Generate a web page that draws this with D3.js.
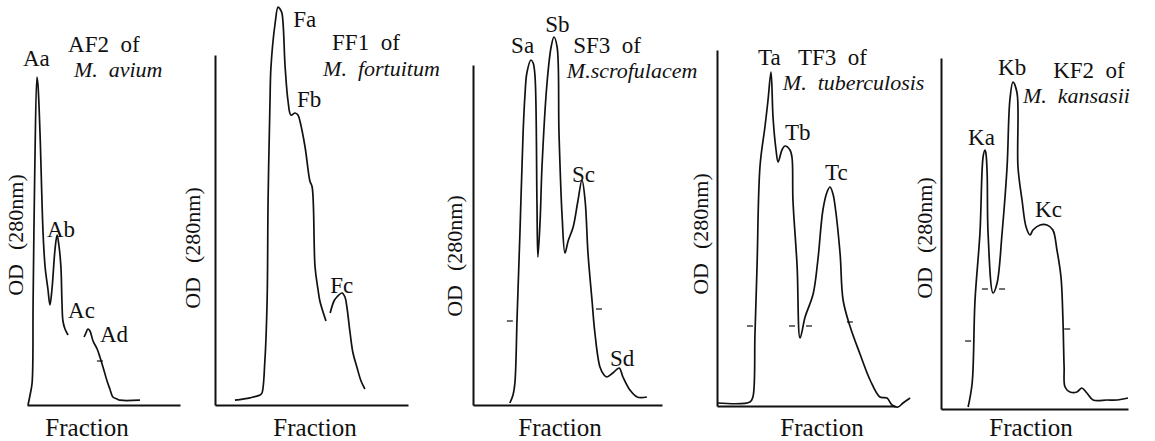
<!DOCTYPE html>
<html>
<head>
<meta charset="utf-8">
<script src="https://cdn.jsdelivr.net/npm/d3@7"></script>
<style>
  body { margin: 0; background: #fff; }
</style>
</head>
<body>
<div id="chart"></div>
<script>
// elution profiles, x = fraction number, y = OD at 280nm (null = pen lifted)
var aCurve = [[0.4,0],[1.2,0.025],[2.0,0.055],[2.4,0.26],[3.1,0.61],[3.9,0.82],[4.3,0.8],[5.1,0.68],[6.3,0.43],
  [7.1,0.345],[8.2,0.29],[9.0,0.25],[9.8,0.29],[11.0,0.39],[11.8,0.425],[12.5,0.4],[13.3,0.345],[13.7,0.26],
  [14.1,0.21],[14.9,0.19],[16.1,0.175],null,[22.4,0.17],[23.1,0.18],[23.9,0.19],[24.7,0.185],[25.9,0.16],
  [27.5,0.14],[28.6,0.12],[29.8,0.095],[31.4,0.06],[32.5,0.04],[33.7,0.02],[35.3,0.015],[36.5,0.012],[44.3,0.012]];
var fCurve = [[6.2,0.012],[10.9,0.018],[14.0,0.025],[14.6,0.03],[15.5,0.11],[16.2,0.26],[16.5,0.51],[17.1,0.76],
  [17.4,0.845],[18.7,0.955],[19.6,0.995],[20.2,0.99],[20.8,0.98],[21.8,0.845],[22.7,0.76],[23.6,0.725],
  [24.9,0.73],[25.8,0.725],[26.4,0.71],[28.0,0.645],[29.5,0.56],[30.2,0.545],[31.1,0.345],[32.0,0.29],
  [32.6,0.26],[34.5,0.21],null,[35.8,0.23],[37.0,0.26],[37.9,0.27],[39.5,0.28],[40.4,0.27],[41.0,0.245],
  [42.0,0.18],[42.9,0.13],[44.1,0.095],[45.4,0.06],[46.6,0.04]];
var sCurve = [[11.7,0.005],[12.7,0.025],[13.3,0.055],[14.0,0.22],[14.9,0.43],[15.9,0.68],[16.5,0.775],[17.1,0.83],
  [18.4,0.8625],[19.1,0.855],[19.7,0.82],[20.3,0.51],[20.6,0.37],[21.3,0.46],[21.9,0.595],[23.5,0.805],
  [24.8,0.895],[25.7,0.92],[26.7,0.895],[27.3,0.68],[28.3,0.47],[29.2,0.38],[30.2,0.41],[31.8,0.445],
  [33.3,0.51],[34.6,0.5625],[35.6,0.51],[36.5,0.38],[37.8,0.26],[38.7,0.18],[40.3,0.095],[41.6,0.075],
  [42.5,0.07],[44.4,0.08],[46.4,0.0925],[47.6,0.07],[49.8,0.0375],[52.1,0.02],[55.2,0.02]];
var tCurve = [[0,0.0075],[11.1,0.01],[12.1,0.0225],[12.8,0.18],[13.5,0.35],[14.5,0.6],[16.2,0.7],[17.2,0.765],
  [18.2,0.835],[18.9,0.72],[19.9,0.64],[20.6,0.61],[21.9,0.64],[22.9,0.65],[24.6,0.64],[25.3,0.62],
  [25.6,0.515],[27.0,0.35],[28.0,0.17],[29.7,0.2225],[32.4,0.28],[34.0,0.365],[35.7,0.49],[37.1,0.535],
  [38.1,0.5475],[39.1,0.53],[39.8,0.5],[41.5,0.38],[42.5,0.265],[44.8,0.2],[48.2,0.13],[51.6,0.065],
  [54.9,0.0225],[57.3,0.02],[59.0,0.0025],[61.0,-0.0025],[62.7,0.0075],[65.1,0.02]];
var kCurve = [[8.7,0.005],[10.0,0.065],[10.9,0.27],[12.5,0.44],[13.5,0.63],[14.1,0.6475],[14.4,0.64],[14.8,0.59],
  [15.1,0.44],[16.7,0.29],[18.0,0.315],[19.6,0.44],[21.2,0.605],[22.1,0.7725],[23.1,0.8175],[24.4,0.79],
  [24.7,0.605],[26.0,0.5225],[27.3,0.455],[28.6,0.435],[29.5,0.4475],[31.8,0.46],[34.0,0.46],[35.9,0.4475],
  [37.2,0.3975],[38.5,0.33],[39.1,0.23],[39.5,0.105],[39.8,0.055],[41.4,0.0425],[43.6,0.0425],[45.2,0.0525],
  [46.8,0.04],[48.8,0.0225],[53.3,0.0225],[56.5,0.0225],[60.0,0.0275]];

// peak names [label, fraction, OD] (where each label sits)
var aPeaks = [["Aa",-1.6,0.8475],["Ab",7.8,0.42],["Ac",16.1,0.2175],["Ad",28.6,0.1575]];
var fPeaks = [["Fa",24.3,0.945],["Fb",25.5,0.745],["Fc",35.8,0.28]];
var sPeaks = [["Sa",12.1,0.88],["Sb",22.9,0.9325],["Sc",31.4,0.5575],["Sd",43.5,0.0975]];
var tPeaks = [["Ta",13.8,0.8525],["Tb",22.9,0.665],["Tc",36.4,0.565]];
var kPeaks = [["Ka",8.7,0.66],["Kb",18.3,0.835],["Kc",30.2,0.48]];

// small fraction marks drawn on the trace
var aMarks = [[28.6,0.11]];
var sMarks = [[11.7,0.21],[40.0,0.24]];
var tMarks = [[11.1,0.2],[25.3,0.2],[31.0,0.2],[44.8,0.21]];
var kMarks = [[8.7,0.17],[14.1,0.3],[19.6,0.3],[40.5,0.2]];

var fractions = ["AF2", "FF1", "SF3", "TF3", "KF2"];
var species = ["M. avium", "M. fortuitum", "M.scrofulacem", "M. tuberculosis", "M. kansasii"];
// [title fraction, title OD, species fraction, species OD]
var titlePos = [[16.1,0.8825,18.4,0.82],[36.4,0.8875,33.6,0.8225],[31.8,0.88,29.8,0.8175],
  [27.3,0.8525,22.2,0.79],[36.0,0.8275,26.3,0.765]];

var curves = [aCurve, fCurve, sCurve, tCurve, kCurve];
var peaks = [aPeaks, fPeaks, sPeaks, tPeaks, kPeaks];
var marks = [aMarks, [], sMarks, tMarks, kMarks];

// layout of each small plot (pixels)
var layout = [
  {x0: 27, x1: 180, y0: 405, top: null, odX: 23, odY: 235, fracX: 87},
  {x0: 215, x1: 408, y0: 405, top: 55, odX: 200, odY: 248, fracX: 315},
  {x0: 473, x1: 662, y0: 405, top: 65, odX: 462, odY: 256, fracX: 560},
  {x0: 717, x1: 895, y0: 406, top: 50, odX: 708, odY: 234, fracX: 822},
  {x0: 941, x1: 1128, y0: 409, top: 58, odX: 932, odY: 238, fracX: 1031}
];

// one family name only, no letter-spacing (either one drops the serif face here)
var font = "'Liberation Serif'";
var nb = "\u00a0";

var svg = d3.select("#chart").append("svg")
  .attr("width", 1155).attr("height", 441);

layout.forEach(function(L, i) {
  var x = d3.scaleLinear().domain([0, 60]).range([L.x0, L.x1]);
  var y = d3.scaleLinear().domain([0, 1]).range([L.y0, L.y0 - 400]);
  var g = svg.append("g");

  // axes (plain lines, no ticks)
  g.append("g")
    .attr("transform", `translate(0, ${L.y0})`)
    .call(d3.axisBottom(x).ticks(0).tickSize(0).tickSizeOuter(0))
    .select(".domain").attr("stroke", "#111").attr("stroke-width", 2);
  if (L.top != null) {
    g.append("g")
      .attr("transform", `translate(${L.x0}, 0)`)
      .call(d3.axisLeft(d3.scaleLinear().range([L.y0, L.top])).ticks(0).tickSize(0).tickSizeOuter(0))
      .select(".domain").attr("stroke", "#111").attr("stroke-width", 2);
  }
  g.selectAll(".tick").remove();

  var line = d3.line()
    .defined(function(d) { return d != null; })
    .x(function(d) { return x(d[0]); })
    .y(function(d) { return y(d[1]); })
    .curve(d3.curveCatmullRom.alpha(0.5));

  g.append("path")
    .datum(curves[i])
    .attr("d", line)
    .attr("fill", "none")
    .attr("stroke", "#111")
    .attr("stroke-width", 1.7);

  g.selectAll(".mk").data(marks[i]).join("line")
    .attr("x1", function(d) { return x(d[0]) - 3; })
    .attr("x2", function(d) { return x(d[0]) + 3; })
    .attr("y1", function(d) { return y(d[1]); })
    .attr("y2", function(d) { return y(d[1]); })
    .attr("stroke", "#111").attr("stroke-width", 1.2);

  g.selectAll(".pk").data(peaks[i]).join("text")
    .attr("x", function(d) { return x(d[1]); })
    .attr("y", function(d) { return y(d[2]); })
    .style("font-family", font)
    .style("font-size", "23px")
    .style("fill", "#111")
    .text(function(d) { return d[0]; });

  var tp = titlePos[i];
  g.append("text")
    .attr("x", x(tp[0])).attr("y", y(tp[1]))
    .style("font-family", font)
    .style("font-size", "23px")
    .style("fill", "#111")
    .text(fractions[i] + nb + nb + "of");
  g.append("text")
    .attr("x", x(tp[2])).attr("y", y(tp[3]))
    .style("font-family", font)
    .style("font-style", "italic")
    .style("font-size", "22px")
    .style("fill", "#111")
    .text(species[i].replace(". ", "." + nb + nb));

  // axis titles
  g.append("text")
    .attr("x", L.fracX).attr("y", 436)
    .attr("text-anchor", "middle")
    .style("font-family", font)
    .style("font-size", "25px")
    .style("fill", "#111")
    .text("Fraction");
  var od = g.append("text")
    .attr("transform", `translate(${L.odX}, ${L.odY}) rotate(-90)`)
    .attr("text-anchor", "middle")
    .style("font-family", font)
    .style("font-size", "22px")
    .style("fill", "#111");
  od.append("tspan").text("OD");
  od.append("tspan").attr("dx", 14).text("(280nm)");
});
</script>
</body>
</html>
